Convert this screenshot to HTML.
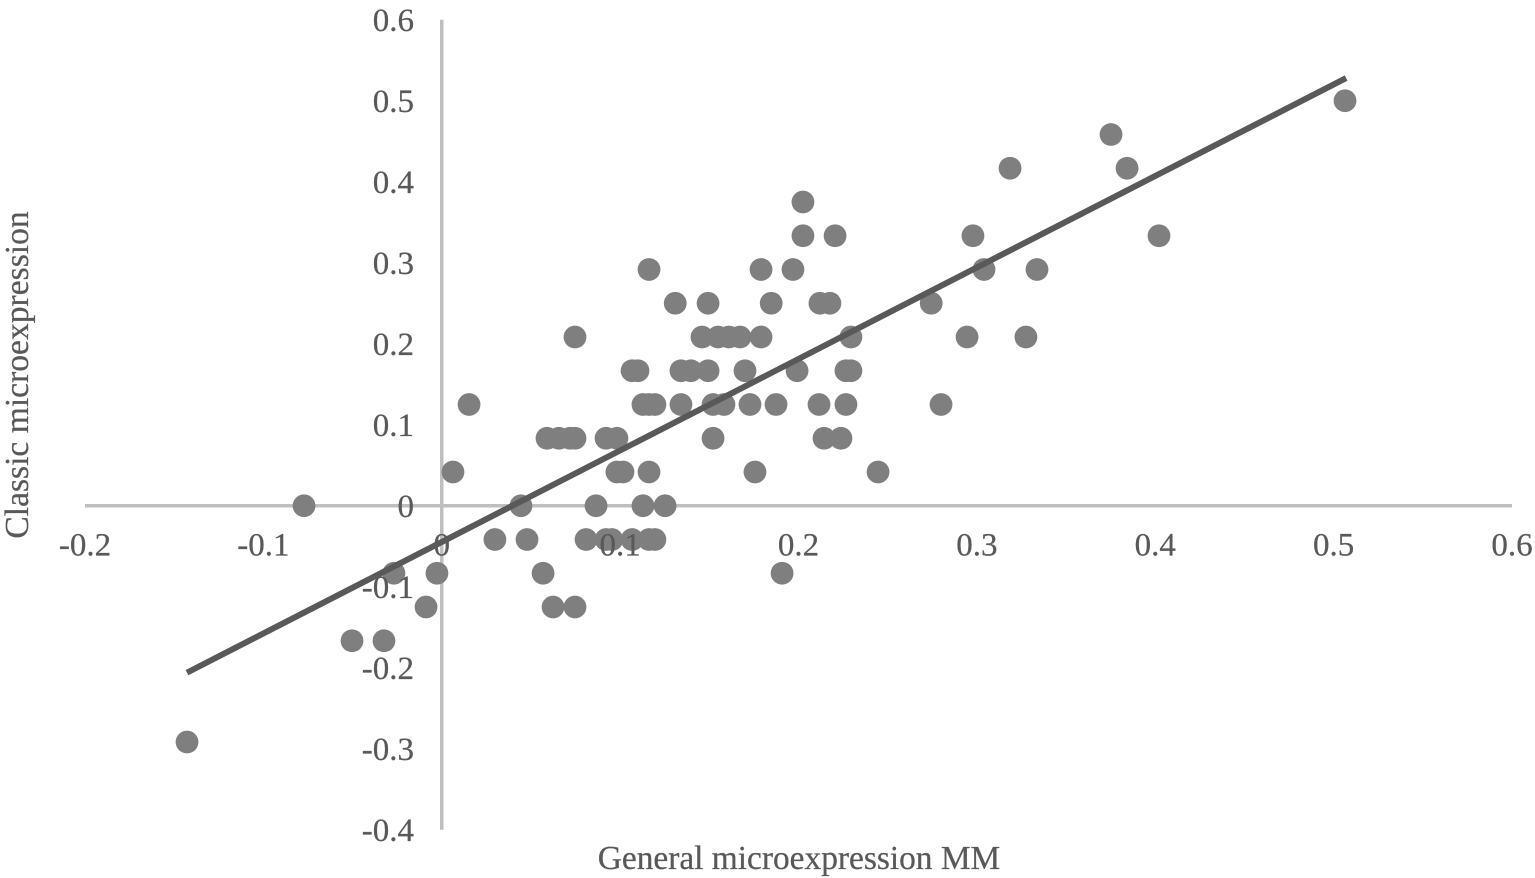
<!DOCTYPE html>
<html>
<head>
<meta charset="utf-8">
<title>Classic vs general microexpression scatter</title>
<style>
html,body{margin:0;padding:0;background:#fff;width:1535px;height:878px;overflow:hidden}
svg{display:block}
text{font-family:"Liberation Serif",serif;fill:#595959;font-size:33px;stroke:#595959;stroke-width:.25px}
</style>
</head>
<body>
<svg id="chart" width="1535" height="878" viewBox="0 0 1535 878" xmlns="http://www.w3.org/2000/svg">
<text x="799" y="869" text-anchor="middle" style="font-size:33.4px">General microexpression MM</text>
<text transform="translate(28,375) rotate(-90)" text-anchor="middle" style="font-size:33.6px">Classic microexpression</text>
</svg>
<script>
const xTicks = [-0.2,-0.1,0,0.1,0.2,0.3,0.4,0.5,0.6];
const yTicks = [-0.4,-0.3,-0.2,-0.1,0,0.1,0.2,0.3,0.4,0.5,0.6];
const xValues = [
0.5064,0.3752,0.3186,0.3842,0.2025,0.2025,0.2205,0.2978,0.4021,
0.1162,0.179,0.1969,0.304,0.3337,0.1309,0.1493,0.1847,0.212,0.2176,0.2744,
0.0747,0.1459,0.1549,0.161,0.1672,0.179,0.2294,0.2945,0.3275,
0.1067,0.11,0.1341,0.1397,0.1493,0.17,0.1992,0.2266,0.2294,
0.0153,0.1128,0.1162,0.1195,0.1341,0.1521,0.1582,0.1728,0.1874,0.2115,0.2266,0.2799,
0.059,0.0657,0.0719,0.0747,0.0921,0.0982,0.1521,0.2143,0.2238,
0.0063,0.0982,0.1016,0.1162,0.1756,0.2446,
-0.0772,0.0444,0.0865,0.1128,0.1252,
0.0298,0.0478,0.0809,0.0921,0.0954,0.1067,0.1162,0.1195,
-0.0268,-0.0027,0.0568,0.1908,
-0.0088,0.0624,0.0747,
-0.0503,-0.0324,
-0.1428
];
const yValues = [
0.5,0.4583,0.4167,0.4167,0.375,0.3333,0.3333,0.3333,0.3333,
0.2917,0.2917,0.2917,0.2917,0.2917,0.25,0.25,0.25,0.25,0.25,0.25,
0.2083,0.2083,0.2083,0.2083,0.2083,0.2083,0.2083,0.2083,0.2083,
0.1667,0.1667,0.1667,0.1667,0.1667,0.1667,0.1667,0.1667,0.1667,
0.125,0.125,0.125,0.125,0.125,0.125,0.125,0.125,0.125,0.125,0.125,0.125,
0.0833,0.0833,0.0833,0.0833,0.0833,0.0833,0.0833,0.0833,0.0833,
0.0417,0.0417,0.0417,0.0417,0.0417,0.0417,
0,0,0,0,0,
-0.0417,-0.0417,-0.0417,-0.0417,-0.0417,-0.0417,-0.0417,-0.0417,
-0.0833,-0.0833,-0.0833,-0.0833,
-0.125,-0.125,-0.125,
-0.1667,-0.1667,
-0.2917
];
const trendX = [-0.1428,0.507];
const trendY = [-0.206,0.528];

const NS = 'http://www.w3.org/2000/svg';
const svg = document.getElementById('chart');
const sx = v => 441.75 + v * 1783.75;
const sy = v => 505.75 - v * 810;
function make(tag, attrs, text){
  const el = document.createElementNS(NS, tag);
  for (const k in attrs) el.setAttribute(k, attrs[k]);
  if (text !== undefined) el.textContent = text;
  svg.appendChild(el);
  return el;
}
const xAxis = make('line',{x1:sx(-0.2),x2:sx(0.6),y1:sy(0),y2:sy(0),stroke:'#bfbfbf','stroke-width':3.5});


const yAxis = make('line',{x1:sx(0),x2:sx(0),y1:sy(0.6),y2:sy(-0.4),stroke:'#bfbfbf','stroke-width':3.5});


xValues.forEach((v,i)=>{
  const c = make('circle',{cx:sx(v),cy:sy(yValues[i]),r:11.4,fill:'#7f7f7f'});
  
  
});
const trend = make('line',{x1:sx(trendX[0]),y1:sy(trendY[0]),x2:sx(trendX[1]),y2:sy(trendY[1]),stroke:'#595959','stroke-width':6});


xTicks.forEach(v=>{
  const t = make('text',{x:sx(v),y:sy(0)+49.5,'text-anchor':'middle'},String(v));
  
  
});
yTicks.forEach(v=>{
  const t = make('text',{x:414,y:sy(v)+11,'text-anchor':'end'},String(v));
  
  
});
</script>
</body>
</html>
